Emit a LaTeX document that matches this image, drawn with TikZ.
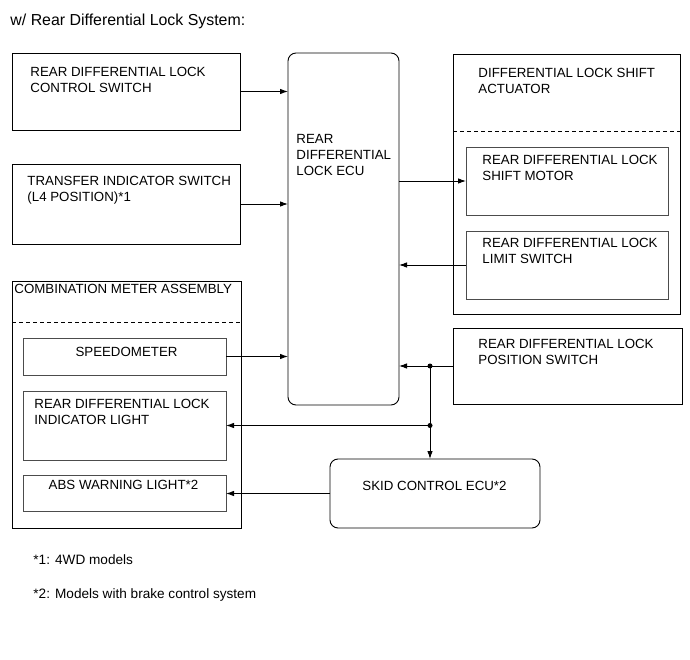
\documentclass[tikz,border=0pt]{standalone}
\usepackage{fontspec}
\setmainfont{Liberation Sans}
\usetikzlibrary{arrows.meta}

\begin{document}
\begin{tikzpicture}[x=1pt, y=-1pt, line width=0.9pt, >={Latex[length=8pt,width=5.5pt]},
	blk/.style={draw, inner sep=0pt, outer sep=0pt, anchor=north west},
	inblk/.style={blk, draw=black!70, line width=0.7pt},
	ecublk/.style={blk, rounded corners=8pt},
	txt/.style={inner sep=0pt, anchor=north west, align=left, font=\fontsize{13.3}{16}\selectfont}]
	\useasboundingbox (0,0) rectangle (690,660);
	%%Titel
	\node[anchor=base west, inner sep=0pt, font=\fontsize{15.9}{19}\selectfont] (titel) at (10,26) {w/ Rear Differential Lock System:};
	%%Bloecke links
	\node[blk, minimum width=228pt, minimum height=77pt] (ctrlsw) at (12,53) {};
	\node[txt] (ctrlswt) at ([shift={(18pt,-14pt)}]ctrlsw.north west) {REAR DIFFERENTIAL LOCK\\CONTROL SWITCH};
	\node[blk, minimum width=228pt, minimum height=80pt] (trsw) at (12,164) {};
	\node[txt] (trswt) at ([shift={(15pt,-12pt)}]trsw.north west) {TRANSFER INDICATOR SWITCH\\(L4 POSITION)*1};
	%%Kombiinstrument
	\node[blk, minimum width=229pt, minimum height=247pt] (meter) at (12,281) {};
	\node[txt] (metert) at ([shift={(2pt,-3pt)}]meter.north west) {COMBINATION METER ASSEMBLY};
	\draw[dashed, line width=0.7pt, dash pattern=on 4pt off 3pt] ([yshift=-41pt]meter.north west) -- ([yshift=-41pt]meter.north east);
	\node[inblk, minimum width=203pt, minimum height=37pt] (speedo) at (23,338) {};
	\node[txt, anchor=north] (speedot) at ([shift={(2pt,-9pt)}]speedo.north) {SPEEDOMETER};
	\node[inblk, minimum width=203pt, minimum height=69pt] (indic) at (23,391) {};
	\node[txt] (indict) at ([shift={(11pt,-8pt)}]indic.north west) {REAR DIFFERENTIAL LOCK\\INDICATOR LIGHT};
	\node[inblk, minimum width=203pt, minimum height=36pt] (abs) at (23,475) {};
	\node[txt, anchor=north] (abst) at ([shift={(-1pt,-5pt)}]abs.north) {ABS WARNING LIGHT*2};
	%%Steuergeraete
	\node[ecublk, minimum width=111pt, minimum height=352pt] (ecu) at (288,53) {};
	\node[txt] (ecut) at ([shift={(8pt,-81pt)}]ecu.north west) {REAR\\DIFFERENTIAL\\LOCK ECU};
	\node[ecublk, minimum width=210pt, minimum height=69pt] (skid) at (330,459) {};
	\node[txt] (skidt) at ([shift={(32pt,-22pt)}]skid.north west) {SKID CONTROL ECU*2};
	%%Bloecke rechts
	\node[blk, minimum width=227pt, minimum height=260pt] (act) at (453,54) {};
	\node[txt] (actt) at ([shift={(25pt,-14pt)}]act.north west) {DIFFERENTIAL LOCK SHIFT\\ACTUATOR};
	\draw[dashed, line width=0.7pt, dash pattern=on 4pt off 3pt] ([yshift=-77pt]act.north west) -- ([yshift=-77pt]act.north east);
	\node[inblk, minimum width=202pt, minimum height=68pt] (motor) at (466,147) {};
	\node[txt] (motort) at ([shift={(16pt,-8pt)}]motor.north west) {REAR DIFFERENTIAL LOCK\\SHIFT MOTOR};
	\node[inblk, minimum width=202pt, minimum height=68pt] (limsw) at (466,231) {};
	\node[txt] (limswt) at ([shift={(16pt,-7pt)}]limsw.north west) {REAR DIFFERENTIAL LOCK\\LIMIT SWITCH};
	\node[blk, minimum width=229pt, minimum height=76pt] (possw) at (453,328) {};
	\node[txt] (posswt) at ([shift={(25pt,-11pt)}]possw.north west) {REAR DIFFERENTIAL LOCK\\POSITION SWITCH};
	%%Knoten
	\coordinate (j1) at ([xshift=-23pt]possw.west);
	\coordinate (j2) at (j1 |- indic.east);
	%%Pfeile
	\draw[->] (ctrlsw.east) -- (ctrlsw.east -| ecu.west);
	\draw[->] (trsw.east) -- (trsw.east -| ecu.west);
	\draw[->] (speedo.east) -- (speedo.east -| ecu.west);
	\draw[->] (motor.west -| ecu.east) -- (motor.west);
	\draw[->] (limsw.west) -- (limsw.west -| ecu.east);
	\draw[->] (possw.west) -- (possw.west -| ecu.east);
	\draw (j1) -- (j2);
	\draw[->] (j2) -- (j2 |- skid.north);
	\draw[->] (j2) -- (indic.east);
	\draw[->] (skid.west) -- (skid.west -| abs.east);
	\fill (j1) circle (2.5pt);
	\fill (j2) circle (2.5pt);
	%%Fussnoten
	\node[anchor=base west, inner sep=0pt, font=\fontsize{13.6}{16}\selectfont] (fn1) at (33,564) {*1: 4WD models};
	\node[anchor=base west, inner sep=0pt, font=\fontsize{13.6}{16}\selectfont] (fn2) at (33,598) {*2: Models with brake control system};
\end{tikzpicture}
\end{document}
